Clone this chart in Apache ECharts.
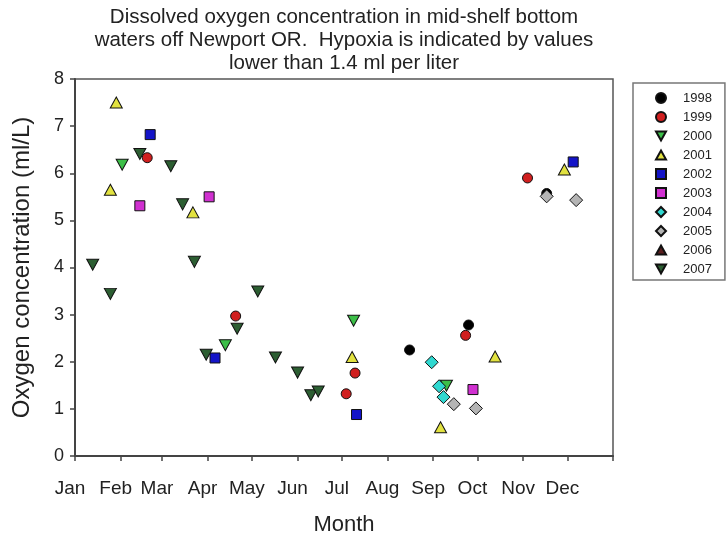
<!DOCTYPE html>
<html>
<head>
<meta charset="utf-8">
<script src="https://cdn.jsdelivr.net/npm/echarts@6/dist/echarts.min.js"></script>
<style>
  html, body { margin: 0; padding: 0; background: #fff; }
  #chart { width: 726px; height: 536px; }
</style>
</head>
<body>
<div id="chart"></div>
<script>
// ---- tick labels ----
const monthNames = ['Jan','Feb','Mar','Apr','May','Jun','Jul','Aug','Sep','Oct','Nov','Dec'];
const monthStartDays = [0, 31, 59, 90, 120, 151, 181, 212, 243, 273, 304, 334];
const yearEndDay = 365;

// ---- series: day of year and oxygen (ml/L) ----
const years = ['1998','1999','2000','2001','2002','2003','2004','2005','2006','2007'];

const days1998 = [227, 267, 320];
const oxy1998  = [2.25, 2.78, 5.57];

const days1999 = [49, 109, 184, 190, 265, 307];
const oxy1999  = [6.33, 2.97, 1.32, 1.76, 2.56, 5.90];

const days2000 = [32, 102, 189, 252];
const oxy2000  = [6.18, 2.35, 2.87, 1.49];

const days2001 = [28, 24, 80, 188, 248, 285, 332];
const oxy2001  = [7.50, 5.65, 5.17, 2.10, 0.61, 2.11, 6.08];

const days2002 = [51, 95, 191, 338];
const oxy2002  = [6.82, 2.08, 0.88, 6.24];

const days2003 = [44, 91, 270];
const oxy2003  = [5.31, 5.50, 1.41];

const days2004 = [242, 247, 250];
const oxy2004  = [1.99, 1.48, 1.25];

const days2005 = [257, 272, 320, 340];
const oxy2005  = [1.10, 1.01, 5.51, 5.43];

const days2006 = [];
const oxy2006  = [];

const days2007 = [12, 24, 44, 65, 73, 81, 89, 110, 124, 136, 151, 160, 165];
const oxy2007  = [4.06, 3.44, 6.41, 6.15, 5.34, 4.12, 2.15, 2.70, 3.49, 2.09, 1.77, 1.29, 1.37];

const dayArrays = [days1998, days1999, days2000, days2001, days2002, days2003, days2004, days2005, days2006, days2007];
const oxyArrays = [oxy1998, oxy1999, oxy2000, oxy2001, oxy2002, oxy2003, oxy2004, oxy2005, oxy2006, oxy2007];

// ---- styles ----
const TRI_DOWN = 'path://M0,0L10,0L5,9Z';
const TRI_UP = 'path://M5,0L10,9L0,9Z';
const styles = [
  { symbol: 'circle',  size: 10,       color: '#000000' },
  { symbol: 'circle',  size: 10,       color: '#d01f1f' },
  { symbol: TRI_DOWN,  size: [12, 11], color: '#3cbf48' },
  { symbol: TRI_UP,    size: [12, 11], color: '#e2e240' },
  { symbol: 'rect',    size: 10,       color: '#1414c8' },
  { symbol: 'rect',    size: 10,       color: '#d030d0' },
  { symbol: 'diamond', size: 13,       color: '#30d8d0' },
  { symbol: 'diamond', size: 13,       color: '#b4b4b4' },
  { symbol: TRI_UP,    size: [12, 11], color: '#5a1f1f' },
  { symbol: TRI_DOWN,  size: [12, 11], color: '#2c5e32' }
];

const FONT = '"Liberation Sans", Arial, sans-serif';

const series = years.map((y, i) => ({
  name: y,
  type: 'scatter',
  symbol: styles[i].symbol,
  symbolSize: styles[i].size,
  itemStyle: { color: styles[i].color, borderColor: '#111', borderWidth: 1, opacity: 1 },
  emphasis: { disabled: true },
  data: dayArrays[i].map((d, k) => [d, oxyArrays[i][k]])
}));

const chart = echarts.init(document.getElementById('chart'), null, { renderer: 'canvas' });
chart.setOption({
  backgroundColor: '#ffffff',
  animation: false,
  title: {
    text: 'Dissolved oxygen concentration in mid-shelf bottom\nwaters off Newport OR.  Hypoxia is indicated by values\nlower than 1.4 ml per liter',
    left: 344,
    top: 6,
    textAlign: 'center',
    padding: 0,
    textStyle: { fontFamily: FONT, fontSize: 20.5, fontWeight: 'normal', color: '#222', lineHeight: 23 }
  },
  legend: {
    orient: 'vertical',
    left: 633,
    top: 83,
    padding: [8, 13, 4, 22],
    itemWidth: 10,
    itemHeight: 10,
    itemGap: 5,
    borderColor: '#777',
    borderWidth: 1.5,
    backgroundColor: '#fff',
    textStyle: { fontFamily: FONT, fontSize: 13, color: '#222', lineHeight: 14, padding: [0, 0, 0, 12] },
    data: years
  },
  grid: {
    left: 75, right: 113, top: 79, bottom: 80,
    outerBoundsMode: 'none',
    containLabel: false,
    show: true, borderColor: '#555', borderWidth: 1.5, backgroundColor: 'transparent'
  },
  xAxis: {
    type: 'value',
    min: 0, max: yearEndDay,
    name: 'Month',
    nameLocation: 'middle',
    nameGap: 58,
    nameTextStyle: { fontFamily: FONT, fontSize: 22, color: '#222' },
    axisLine: { show: true, lineStyle: { color: '#444', width: 2 } },
    axisTick: { show: true, length: 5, lineStyle: { color: '#444', width: 1.5 }, customValues: monthStartDays.concat([yearEndDay]) },
    axisLabel: {
      customValues: monthStartDays,
      formatter: v => monthNames[monthStartDays.indexOf(v)],
      fontFamily: FONT, fontSize: 19, color: '#222', margin: 23,
      padding: [0, 10, 0, 0]
    },
    splitLine: { show: false }
  },
  yAxis: {
    type: 'value',
    min: 0, max: 8, interval: 1,
    name: 'Oxygen concentration (ml/L)',
    nameLocation: 'middle',
    nameGap: 41,
    nameTextStyle: { fontFamily: FONT, fontSize: 24, color: '#222' },
    axisLine: { show: true, lineStyle: { color: '#444', width: 2 } },
    axisTick: { show: true, length: 5, lineStyle: { color: '#444', width: 1.5 } },
    axisLabel: { fontFamily: FONT, fontSize: 18, color: '#222', margin: 11 },
    splitLine: { show: false }
  },
  series: series
});
</script>
</body>
</html>
